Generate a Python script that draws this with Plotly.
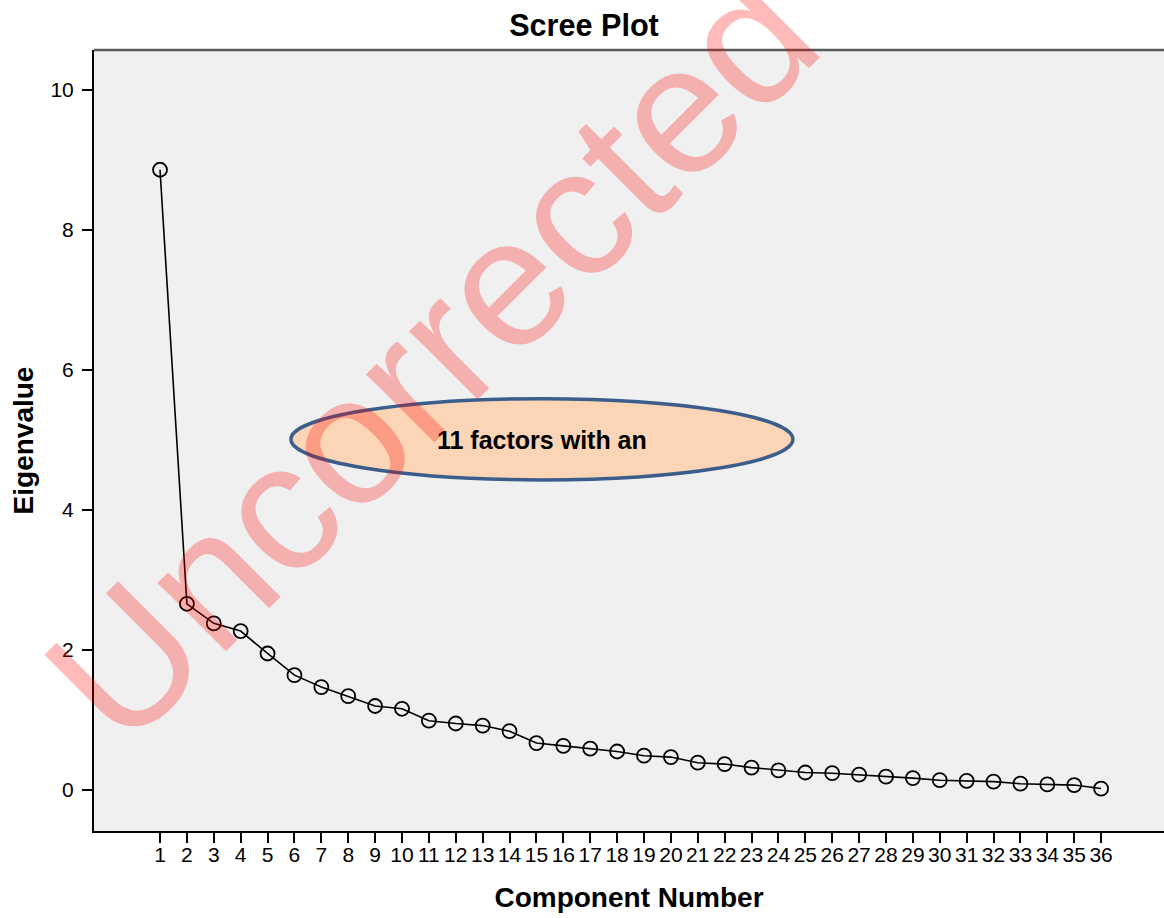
import plotly.graph_objects as go

# ---- data ----
components = list(range(1, 37))
eigenvalues = [8.86, 2.66, 2.38, 2.27, 1.95, 1.64, 1.47, 1.34, 1.20, 1.16,
               0.99, 0.95, 0.92, 0.84, 0.67, 0.63, 0.59, 0.55, 0.49, 0.47,
               0.39, 0.37, 0.32, 0.28, 0.25, 0.24, 0.22, 0.19, 0.17, 0.14,
               0.13, 0.12, 0.09, 0.08, 0.07, 0.02]
x_tick_labels = [str(c) for c in components]
y_tick_values = [0, 2, 4, 6, 8, 10]

title_text = "Scree Plot"
x_title = "Component Number"
y_title = "Eigenvalue"
callout_text = "11 factors with an"
watermark_text = "Uncorrected"

FONT = "Liberation Sans, Arial, sans-serif"

fig = go.Figure()
fig.add_trace(go.Scatter(
    x=components, y=eigenvalues, mode="lines+markers",
    line=dict(color="black", width=1.6),
    marker=dict(symbol="circle-open", size=14, color="black",
                line=dict(color="black", width=1.8)),
    showlegend=False, hoverinfo="x+y",
))

# callout ellipse (data coordinates)
fig.add_shape(type="circle", xref="x", yref="y",
              x0=5.87, x1=24.54, y0=4.43, y1=5.59,
              fillcolor="#fbd5b5", line=dict(color="#3a5d8c", width=3.5),
              layer="above")
fig.add_annotation(x=15.2, y=5.0, xref="x", yref="y", text="<b>%s</b>" % callout_text,
                   showarrow=False, font=dict(family=FONT, size=25, color="black"))

# top border of plot frame
fig.add_shape(type="line", xref="paper", yref="paper", x0=0, x1=1, y0=1, y1=1,
              line=dict(color="#5a5a5a", width=2.5), layer="above")

# watermark
fig.add_annotation(x=0.315, y=0.607, xref="paper", yref="paper",
                   xanchor="center", yanchor="middle",
                   text=watermark_text, showarrow=False, textangle=-45,
                   font=dict(family=FONT, size=183, color="rgba(255,0,0,0.27)"))

fig.update_layout(
    width=1164, height=918,
    margin=dict(l=94, r=0, t=50, b=87, autoexpand=False),
    paper_bgcolor="white", plot_bgcolor="#f0f0f0",
    font=dict(family=FONT, color="black"),
    title=dict(text="<b>%s</b>" % title_text, x=584 / 1164, xref="container", xanchor="center",
               y=1 - 25 / 918, yref="container", yanchor="middle",
               font=dict(family=FONT, size=30.6, color="black")),
)

fig.update_xaxes(
    range=[-1.455, 38.34], tickmode="array", tickvals=components, ticktext=x_tick_labels,
    ticks="outside", ticklen=10, tickwidth=1.5, tickcolor="black",
    showgrid=False, zeroline=False, showline=True, linecolor="black", linewidth=2,
    tickfont=dict(family=FONT, size=21, color="black"), ticklabelstandoff=-6,
    title=dict(text="<b>%s</b>" % x_title, font=dict(family=FONT, size=28, color="black"),
               standoff=22),
    fixedrange=True,
)
fig.update_yaxes(
    range=[-0.586, 10.571], tickmode="array", tickvals=y_tick_values,
    ticks="outside", ticklen=10, tickwidth=1.5, tickcolor="black",
    showgrid=False, zeroline=False, showline=True, linecolor="black", linewidth=2,
    tickfont=dict(family=FONT, size=21, color="black"), ticklabelstandoff=4,
    title=dict(text="<b>%s</b>" % y_title, font=dict(family=FONT, size=28, color="black"),
               standoff=9),
    fixedrange=True,
)

fig.write_html("out.html", config={"displayModeBar": False},
               post_script="document.body.style.margin='0';")
